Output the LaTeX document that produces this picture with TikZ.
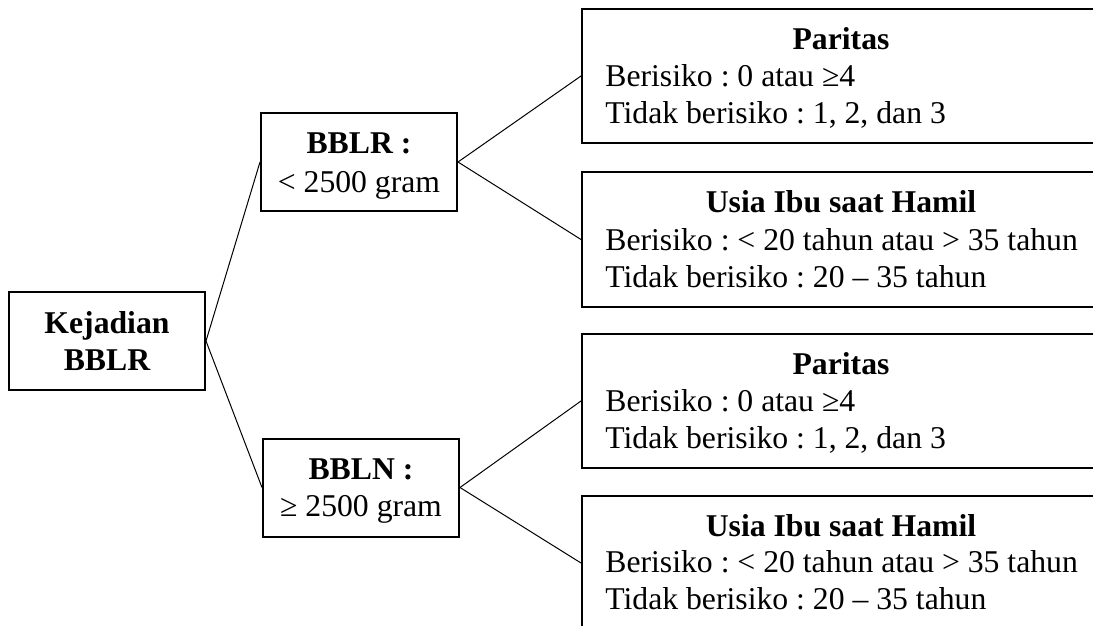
\documentclass[tikz,border=0pt]{standalone}
\usepackage{fontspec}
\setmainfont{Liberation Serif}
\frenchspacing
\begin{document}
\begin{tikzpicture}[x=0.5pt,y=-0.5pt,
  box/.style={draw, line width=1pt, inner sep=0pt, minimum width=98pt, minimum height=49pt},
  bigbox/.style={draw, line width=1pt, inner sep=0pt, minimum width=259pt, minimum height=67pt},
  txt/.style={inner sep=0pt, font=\fontsize{15.85pt}{18.5pt}\selectfont\frenchspacing},
  ttl/.style={txt, anchor=base, font=\fontsize{15.85pt}{18.5pt}\selectfont\bfseries\frenchspacing},
  bl/.style={txt, anchor=base west},
  conn/.style={line width=0.5pt}]
\clip (0,0) rectangle (1093,626);
\fill[white] (0,0) rectangle (1093,626);
% left boxes
\node[box] (k) at (107,341) {};
\node[ttl] (kt1) at (107,333) {Kejadian};
\node[ttl] (kt2) at (107,370) {BBLR};
\node[box] (r) at (359,162) {};
\node[ttl] (rt1) at (359,154) {BBLR :};
\node[txt, anchor=base] (rt2) at (359,192) {< 2500 gram};
\node[box] (n) at (361,487.5) {};
\node[ttl] (nt1) at (361,479) {BBLN :};
\node[txt, anchor=base] (nt2) at (361,516) {≥ 2500 gram};
% right boxes
\node[bigbox] (p1) at (841,76) {};
\node[ttl] (p1t) at (841,50) {Paritas};
\node[bl] (p1a) at (605,87) {Berisiko : 0 atau ≥4};
\node[bl] (p1b) at (605,124) {Tidak berisiko : 1, 2, dan 3};
\node[bigbox] (u1) at (841,239.5) {};
\node[ttl] (u1t) at (841,213) {Usia Ibu saat Hamil};
\node[bl] (u1a) at (605,250) {Berisiko : < 20 tahun atau > 35 tahun};
\node[bl] (u1b) at (605,287) {Tidak berisiko : 20 – 35 tahun};
\node[bigbox] (p2) at (841,401) {};
\node[ttl] (p2t) at (841,374) {Paritas};
\node[bl] (p2a) at (605,411) {Berisiko : 0 atau ≥4};
\node[bl] (p2b) at (605,448) {Tidak berisiko : 1, 2, dan 3};
\node[bigbox] (u2) at (841,563) {};
\node[ttl] (u2t) at (841,536) {Usia Ibu saat Hamil};
\node[bl] (u2a) at (605,572) {Berisiko : < 20 tahun atau > 35 tahun};
\node[bl] (u2b) at (605,609) {Tidak berisiko : 20 – 35 tahun};
% connectors
\draw[conn] (k.east) -- (r.west);
\draw[conn] (k.east) -- (n.west);
\draw[conn] (r.east) -- (p1.west);
\draw[conn] (r.east) -- (u1.west);
\draw[conn] (n.east) -- (p2.west);
\draw[conn] (n.east) -- (u2.west);
\end{tikzpicture}
\end{document}
